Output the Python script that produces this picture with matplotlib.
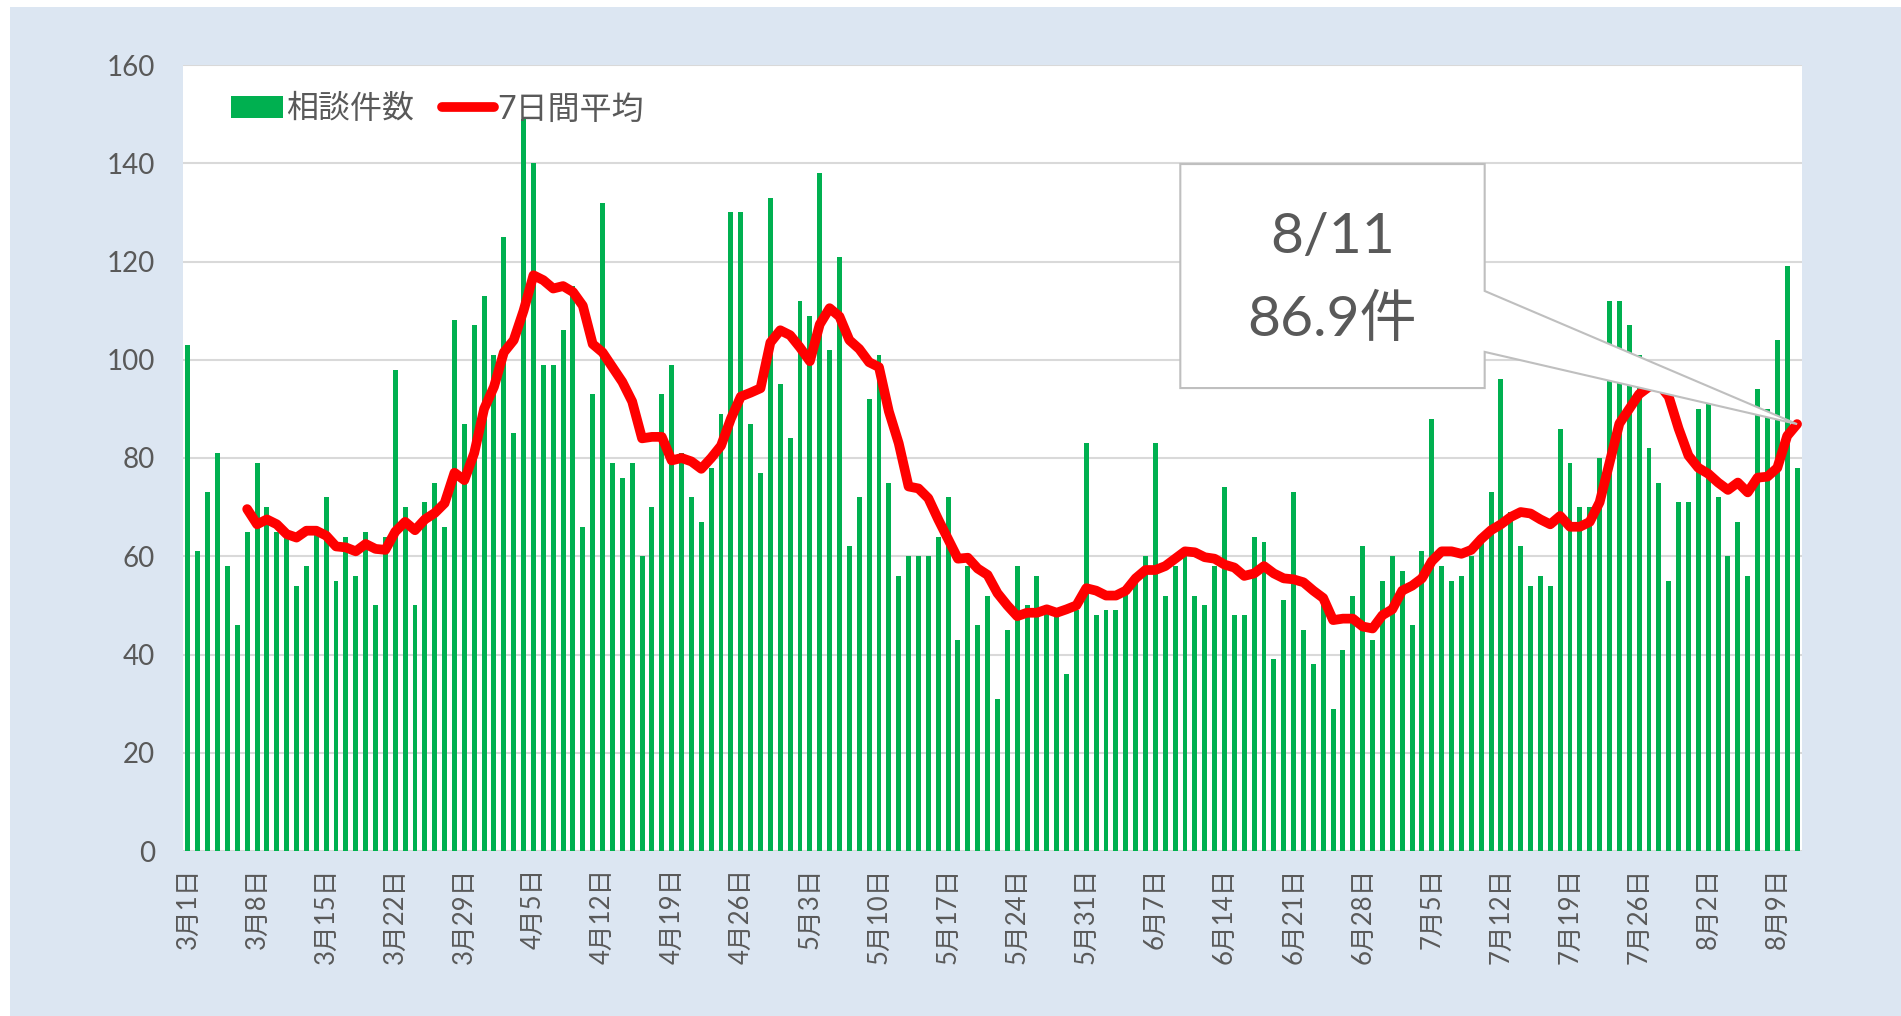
import numpy as np
import matplotlib.pyplot as plt
from matplotlib.patches import Polygon, Rectangle

# daily consultation counts, 3/1 - 8/11
counts = [
    # March
    103, 61, 73, 81, 58, 46, 65, 79, 70, 65, 64, 54, 58, 65, 72, 55,
    64, 56, 65, 50, 64, 98, 70, 50, 71, 75, 66, 108, 87, 107, 113,
    # April
    101, 125, 85, 149, 140, 99, 99, 106, 115, 66, 93, 132, 79, 76, 79,
    60, 70, 93, 99, 81, 72, 67, 78, 89, 130, 130, 87, 77, 133, 95,
    # May
    84, 112, 109, 138, 102, 121, 62, 72, 92, 101, 75, 56, 60, 60, 60, 64,
    72, 43, 58, 46, 52, 31, 45, 58, 50, 56, 50, 48, 36, 49, 83,
    # June
    48, 49, 49, 54, 56, 60, 83, 52, 58, 60, 52, 50, 58, 74, 48,
    48, 64, 63, 39, 51, 73, 45, 38, 52, 29, 41, 52, 62, 43, 55,
    # July
    60, 57, 46, 61, 88, 58, 55, 56, 60, 63, 73, 96, 69, 62, 54, 56,
    54, 86, 79, 70, 70, 80, 112, 112, 107, 101, 82, 75, 55, 71, 71,
    # August
    90, 91, 72, 60, 67, 56, 94, 90, 104, 119, 78,
]

# 7-day average as drawn (starts on 3/7)
avg7 = [
    69.6, 66.5, 67.5, 66.5, 64.5, 63.8, 65.2, 65.2, 64.2, 62.0, 61.8,
    61.0, 62.5, 61.5, 61.3, 65.0, 67.0, 65.3, 67.5, 68.8, 70.8, 77.0,
    75.5, 81.0, 90.0, 94.5, 101.5, 104.0, 110.0, 117.2, 116.2, 114.5,
    115.0, 113.8, 111.0, 103.2, 101.5, 98.5, 95.5, 91.5, 84.0, 84.3,
    84.3, 79.5, 80.0, 79.3, 77.8, 80.0, 82.5, 88.0,
    92.5, 93.3, 94.2, 103.5, 106.0, 105.0, 102.5, 99.7, 107.2, 110.5,
    108.8, 104.0, 102.2, 99.5, 98.5, 89.5, 83.0, 74.2, 73.8, 71.8,
    67.5, 63.5, 59.5, 59.7, 57.5, 56.2, 52.5,
    50.0, 47.8, 48.5, 48.5, 49.2, 48.5, 49.2, 50.0, 53.5, 53.0, 52.0,
    52.0, 53.0, 55.5, 57.2, 57.2, 58.0, 59.5, 61.0, 60.8, 59.8, 59.5,
    58.3, 57.7, 56.0, 56.5, 58.0,
    56.5, 55.5, 55.3, 54.7, 53.0, 51.5, 47.0, 47.3, 47.3, 45.7, 45.3,
    48.0, 49.2, 53.0, 54.0, 55.5, 59.0, 61.0, 61.0, 60.5, 61.3, 63.5,
    65.3, 66.5, 68.0, 69.0, 68.7, 67.5,
    66.5, 68.2, 66.0, 66.0, 67.0, 71.0, 79.0, 87.0, 90.0, 93.0, 94.5,
    95.0, 92.5, 86.0, 80.5, 78.0, 76.8, 75.0, 73.5, 75.0, 73.0, 76.0,
    76.2, 78.0, 84.5, 86.9,
]

tick_labels = ["3月1日", "3月8日", "3月15日", "3月22日", "3月29日", "4月5日",
               "4月12日", "4月19日", "4月26日", "5月3日", "5月10日", "5月17日",
               "5月24日", "5月31日", "6月7日", "6月14日", "6月21日", "6月28日",
               "7月5日", "7月12日", "7月19日", "7月26日", "8月2日", "8月9日"]
last_date = "8/11"

plt.rcParams['font.family'] = ['Lato', 'Noto Sans CJK JP']

W, H = 1901, 1016
fig = plt.figure(figsize=(W / 100, H / 100), dpi=100)
fig.patch.set_facecolor('white')
# light blue chart area behind the plot
fig.add_artist(Rectangle((10 / W, 0), 1, 1 - 7 / H, transform=fig.transFigure,
                         facecolor='#DCE6F2', edgecolor='none', zorder=-10))

ax = fig.add_axes([183 / W, 165 / H, 1619 / W, 786 / H])
ax.set_facecolor('white')
x = np.arange(len(counts))

bars = ax.bar(x, counts, width=0.5, color='#00B050', label='相談件数', zorder=2)
line, = ax.plot(x[len(counts) - len(avg7):], avg7, color='#FF0000', lw=7,
                solid_joinstyle='round', solid_capstyle='round', label='7日間平均', zorder=3)

ax.set_xlim(-0.5, len(counts) - 0.5)
ax.set_ylim(0, 160)
ax.set_yticks(range(0, 161, 20))
ax.set_xticks(x[::7], tick_labels, rotation=90)
ax.yaxis.grid(True, color='#D9D9D9', lw=1.5)
ax.set_axisbelow(True)
for s in ax.spines.values():
    s.set_visible(False)
ax.tick_params(axis='both', length=0, colors='#595959')
ax.tick_params(axis='y', labelsize=20, pad=20)
ax.tick_params(axis='x', labelsize=18.5, pad=12)

ax.legend(handles=[bars, line], loc='upper left', bbox_to_anchor=(0.022, 0.979), ncol=2,
          frameon=False, fontsize=23, handlelength=1.6, handletextpad=0.1, columnspacing=0.9,
          borderaxespad=0, labelcolor='#595959')

# callout for the latest 7-day average
L, R, T, B = 0.616, 0.804, 0.874, 0.589
w1, w2 = 0.7125, 0.635
tip = ax.transAxes.inverted().transform(ax.transData.transform((x[-1], avg7[-1])))
verts = [(L, T), (R, T), (R, w1), tuple(tip), (R, w2), (R, B), (L, B)]
ax.add_patch(Polygon(verts, closed=True, transform=ax.transAxes, facecolor='white',
                     edgecolor='#BFBFBF', lw=1.5, zorder=4, clip_on=False))
ax.text((L + R) / 2, 0.781, last_date, transform=ax.transAxes,
        ha='center', va='center', fontsize=41, color='#595959', zorder=5)
ax.text((L + R) / 2, 0.676, f"{avg7[-1]:.1f}件", transform=ax.transAxes,
        ha='center', va='center', fontsize=41, color='#595959', zorder=5)

plt.savefig("out.png", dpi=100)
